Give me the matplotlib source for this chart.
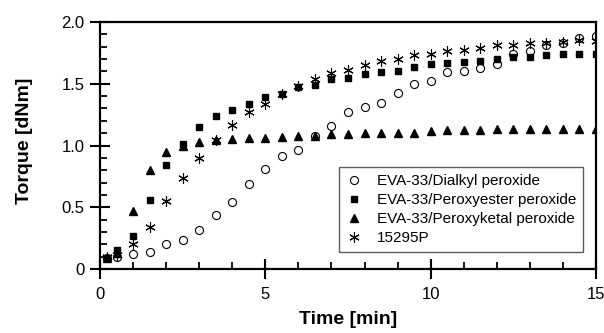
import matplotlib
matplotlib.use("Agg")
import matplotlib.pyplot as plt
from matplotlib.ticker import MultipleLocator, FuncFormatter

plt.rcParams['font.family'] = ['Liberation Sans', 'DejaVu Sans']

# time points [min]
time_min = [0.2, 0.5, 1.0, 1.5, 2.0, 2.5, 3.0, 3.5, 4.0, 4.5, 5.0, 5.5, 6.0, 6.5, 7.0,
            7.5, 8.0, 8.5, 9.0, 9.5, 10.0, 10.5, 11.0, 11.5, 12.0, 12.5, 13.0, 13.5,
            14.0, 14.5, 15.0]

# torque [dNm]
dialkyl = [0.09, 0.10, 0.12, 0.14, 0.20, 0.235, 0.318, 0.44, 0.539, 0.69, 0.808, 0.915,
           0.966, 1.08, 1.16, 1.27, 1.308, 1.345, 1.426, 1.496, 1.52, 1.595, 1.605, 1.628,
           1.657, 1.744, 1.768, 1.81, 1.834, 1.87, 1.886]
peroxyester = [0.09, 0.15, 0.265, 0.555, 0.84, 1.01, 1.147, 1.238, 1.286, 1.34, 1.396,
               1.42, 1.474, 1.49, 1.538, 1.548, 1.577, 1.595, 1.606, 1.633, 1.66, 1.671,
               1.676, 1.688, 1.70, 1.714, 1.716, 1.733, 1.744, 1.744, 1.744]
peroxyketal = [0.09, 0.13, 0.466, 0.80, 0.945, 1.0, 1.026, 1.045, 1.05, 1.058, 1.062,
               1.071, 1.074, 1.08, 1.09, 1.093, 1.10, 1.10, 1.105, 1.105, 1.115, 1.125,
               1.125, 1.125, 1.135, 1.135, 1.135, 1.135, 1.135, 1.135, 1.135]
p15295 = [0.10, 0.11, 0.20, 0.34, 0.547, 0.735, 0.90, 1.045, 1.165, 1.273, 1.34, 1.42,
          1.48, 1.54, 1.585, 1.609, 1.649, 1.681, 1.703, 1.732, 1.738, 1.762, 1.77,
          1.789, 1.816, 1.813, 1.829, 1.829, 1.84, 1.856, 1.845]

labels = ['EVA-33/Dialkyl peroxide', 'EVA-33/Peroxyester peroxide',
          'EVA-33/Peroxyketal peroxide', '15295P']

fig = plt.figure(figsize=(6.04, 3.33), dpi=100)
ax = fig.add_axes([100 / 604, 1 - 269 / 333, 496 / 604, 247 / 333])

ax.plot(time_min, dialkyl, linestyle='none', marker='o', markersize=5.8,
        markerfacecolor='white', markeredgecolor='black', markeredgewidth=0.8,
        label=labels[0])
ax.plot(time_min, peroxyester, linestyle='none', marker='s', markersize=4.8,
        color='black', label=labels[1])
ax.plot(time_min, peroxyketal, linestyle='none', marker='^', markersize=5.2,
        color='black', label=labels[2])
ax.plot(time_min, p15295, linestyle='none', marker=(6, 2, 0), markersize=7.5,
        color='black', markeredgewidth=0.8, label=labels[3])

ax.set_xlim(0, 15)
ax.set_ylim(0, 2.0)

ax.xaxis.set_major_locator(MultipleLocator(5))
ax.xaxis.set_minor_locator(MultipleLocator(1))
ax.yaxis.set_major_locator(MultipleLocator(0.5))
ax.yaxis.set_minor_locator(MultipleLocator(0.1))
ax.yaxis.set_major_formatter(FuncFormatter(lambda v, p: '0' if v == 0 else '%.1f' % v))

for side in ['left', 'right', 'top', 'bottom']:
    ax.spines[side].set_linewidth(1.6)

ax.tick_params(which='major', direction='inout', length=14, width=1.5,
               labelsize=12, pad=4)
ax.tick_params(which='minor', direction='in', length=5, width=1.3)
ax.tick_params(axis='x', which='major', pad=6)

ax.set_xlabel('Time [min]', fontsize=14, fontweight='bold')
ax.set_ylabel('Torque [dNm]', fontsize=14, fontweight='bold')
ax.xaxis.set_label_coords(0.5, -0.17)
ax.yaxis.set_label_coords(-0.135, 0.52)

leg = ax.legend(loc='lower left', bbox_to_anchor=(0.482, 0.069, 0.492, 0.352),
                mode='expand', fontsize=11, frameon=True, fancybox=False,
                handlelength=1.0, handletextpad=1.0, labelspacing=0.33,
                borderpad=0.45, borderaxespad=0)
leg.get_frame().set_edgecolor('#333333')
leg.get_frame().set_linewidth(1.0)

fig.savefig('out.png', dpi=100)
